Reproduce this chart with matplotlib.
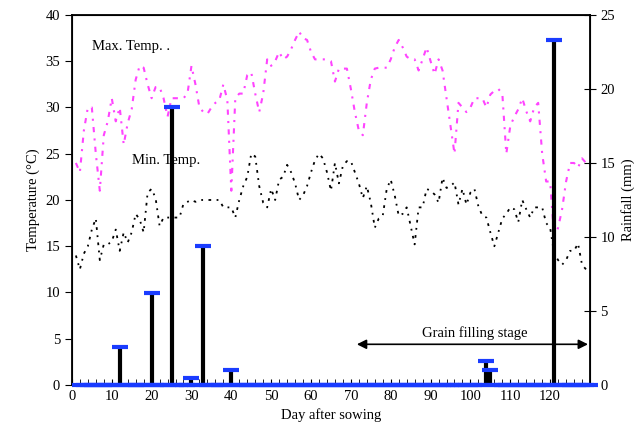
import numpy as np
import matplotlib
matplotlib.use('Agg')
import matplotlib.pyplot as plt
from matplotlib.ticker import MultipleLocator

plt.rcParams['font.family'] = ['Liberation Serif', 'DejaVu Serif']

# daily temperatures, day 1..129
days_t = np.arange(1, 130)
tmax = [24, 23, 27.5, 30, 30, 25, 21, 27, 28.5, 31,
        28.5, 30, 26, 28.3, 29.8, 33, 34.5, 34.3, 32.5, 31,
        32.2, 32.2, 31, 29, 31, 31, 31, 31, 31.5, 34.5,
        32.5, 30, 29.5, 29.3, 30, 30.5, 30.8, 32.5, 30.8, 21,
        31, 31.5, 31.5, 33.5, 33.8, 31.5, 29.5, 31.5, 35.2, 34.5,
        35, 36, 35.2, 35.5, 36.3, 37.3, 38.2, 37.5, 37.3, 36,
        35.2, 35.2, 35.2, 35.2, 35, 32.8, 34.2, 34.2, 34.2, 32,
        29.5, 27.5, 27, 30.5, 33, 34.2, 34.3, 34.3, 34.3, 35.2,
        36.5, 37.3, 36.5, 35.5, 35.2, 35.2, 34, 35.2, 36.5, 35,
        33.6, 35.2, 34, 31, 28, 25, 30.5, 30, 29.5, 30,
        31, 31, 31, 30, 31.4, 31.8, 32, 31.5, 25, 28,
        29, 29.8, 31, 29.6, 28.5, 30, 30.5, 25, 22, 22,
        16, 17, 19, 22, 24, 24, 23.5, 24.5, 24]
tmin = [14, 12.5, 14.2, 15, 16.8, 18, 13.5, 15.2, 15.2, 15.5,
        16.8, 14.5, 16.5, 15.4, 16.5, 18.5, 17.9, 16.5, 20.8, 21.2,
        20.2, 17.2, 18.1, 18.1, 18.1, 18.1, 18.1, 19.6, 19.8, 20,
        19.8, 20, 20, 20, 20, 20, 20, 19.2, 19.2, 19.2,
        18.1, 20, 21.5, 22.5, 25, 24.7, 21.5, 19.7, 19.2, 21.2,
        20, 22.2, 22.5, 23.8, 23, 21.8, 20, 20.5, 21.5, 23,
        24.3, 25, 24.5, 23, 21, 24, 21.8, 23.7, 24.2, 24.2,
        23, 21.8, 20.2, 21.5, 19.7, 17, 18, 18.3, 21.2, 22.2,
        20.5, 18.3, 18.5, 19.2, 17.2, 15.2, 19.2, 19.2, 21.2, 21,
        20.6, 19.7, 22.4, 21.3, 21.5, 21.9, 19.5, 21.2, 19.5, 20.8,
        21.2, 19.3, 18.3, 18.1, 16.5, 15, 16.5, 18, 18.5, 19.2,
        19, 17.6, 20, 19, 18.1, 19.2, 19.2, 19.2, 17.5, 17,
        14.2, 13.5, 13, 13.5, 14.5, 14.5, 15.3, 13, 12.5]

# rainfall events (mm)
rain_days = [12, 20, 25, 30, 33, 40, 104, 105, 121]
rain_mm = [2.6, 6.2, 18.8, 0.5, 9.4, 1.0, 1.6, 1.0, 23.3]

days_r = np.arange(2, 131)
rain = np.zeros(len(days_r))
for d, r in zip(rain_days, rain_mm):
    rain[d - 2] = r

fig = plt.figure(figsize=(6.42, 4.40), dpi=100)
ax = fig.add_axes([0.112, 0.125, 0.807, 0.841])

ax.plot(days_t, tmax, color='#ff44ff', lw=1.5, ls=(0, (2.5, 3, 1, 3)))
ax.plot(days_t, tmin, color='black', lw=1.3, ls=(0, (1.5, 3, 1, 3)))

ax.set_xlim(0, 130)
ax.set_ylim(0, 40)
ax.yaxis.set_major_locator(MultipleLocator(5))
ax.xaxis.set_minor_locator(MultipleLocator(2))
ax.set_xticks(np.arange(0, 121, 10))
ax.tick_params(axis='x', which='both', direction='in', length=4, labelsize=10.5)
ax.tick_params(axis='y', direction='out', length=5, labelsize=10.5)
for s in ax.spines.values():
    s.set_linewidth(1.3)

ax.set_xlabel('Day after sowing', fontsize=10.5)
ax.set_ylabel('Temperature (°C)', fontsize=10.5)

ax.text(5, 36.6, 'Max. Temp. .', fontsize=10.5, va='center')
ax.text(15, 24.3, 'Min. Temp.', fontsize=10.5, va='center')
ax.text(101, 5.6, 'Grain filling stage', fontsize=10.5, ha='center', va='center')
ax.annotate('', xy=(71.5, 4.4), xytext=(129.5, 4.4),
            arrowprops=dict(arrowstyle='<|-|>', color='black', lw=1.2,
                            mutation_scale=14, shrinkA=0, shrinkB=0))

ax2 = ax.twinx()
ax2.set_ylim(0, 25)
ax2.yaxis.set_major_locator(MultipleLocator(5))
ax2.tick_params(axis='y', direction='inout', length=8, labelsize=10.5)
ax2.set_ylabel('Rainfall (mm)', fontsize=10.5)
ax2.vlines(days_r, 0, rain, color='black', lw=3)
ax2.plot(days_r, rain, ls='none', marker='_', ms=12, mew=3,
         color='#1a3cff', clip_on=False, zorder=3)

fig.savefig('out.png', dpi=100)
